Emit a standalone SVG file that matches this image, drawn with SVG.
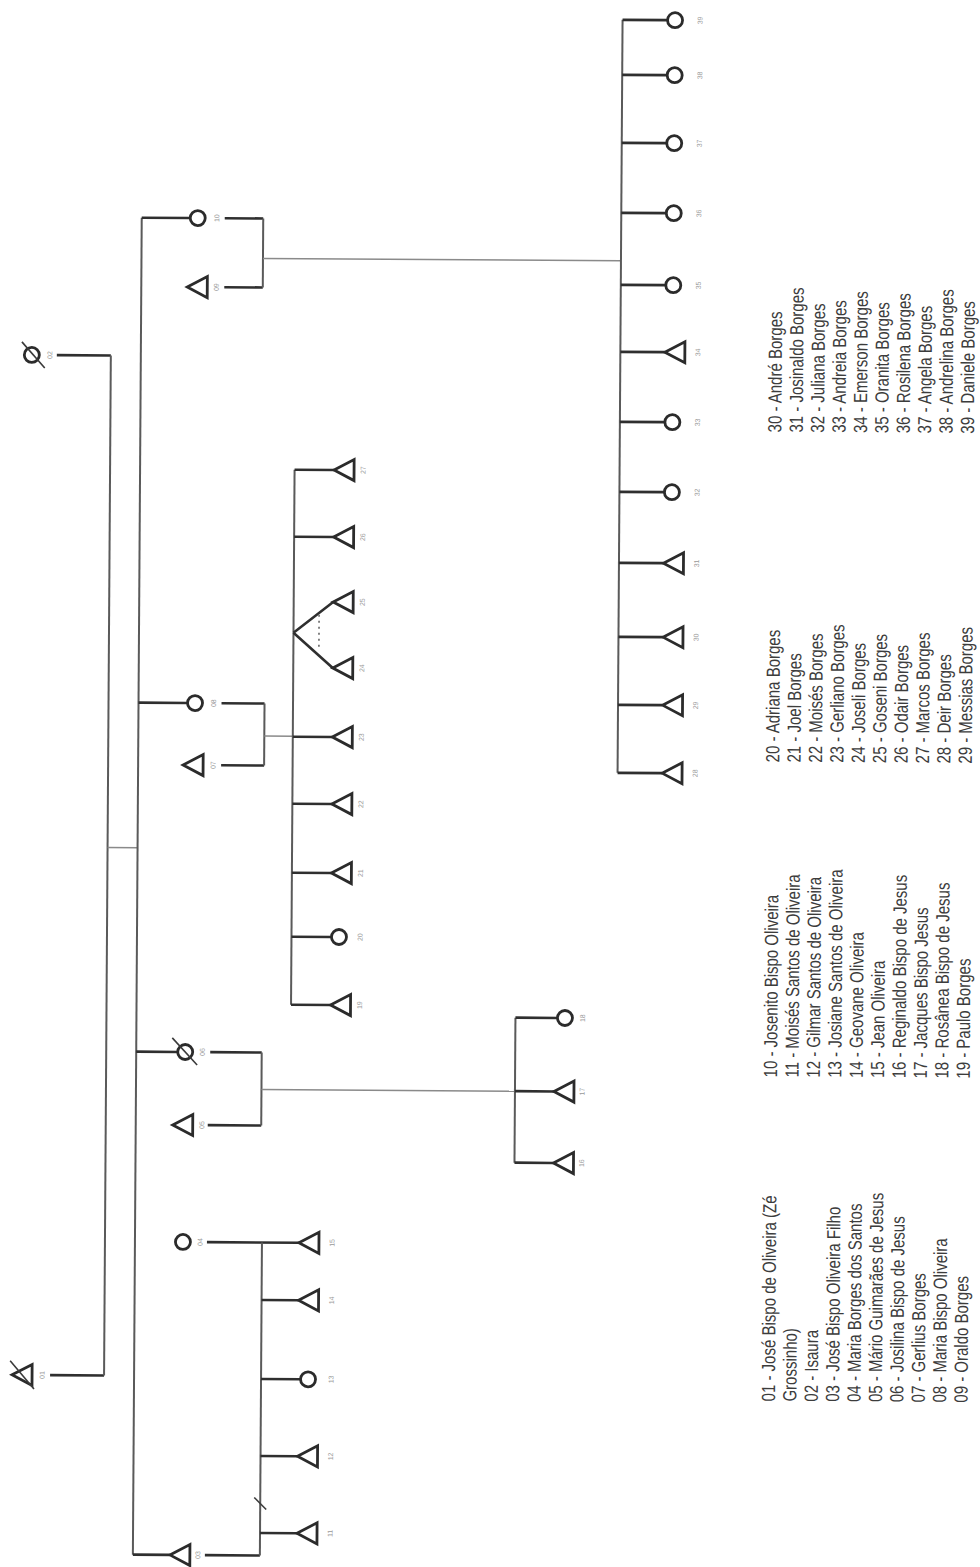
<svg xmlns="http://www.w3.org/2000/svg" xmlns:xlink="http://www.w3.org/1999/xlink" width="980" height="1567" viewBox="0 0 980 1567">
<style>
.sh{fill:#fff;stroke:#2b2b2b;stroke-width:2.8;stroke-linejoin:miter}
.sl{stroke:#3a3a3a;stroke-width:1.6;fill:none}
.c{stroke:#2f2f2f;stroke-width:2.6;fill:none}
.v{stroke:#5a5a5a;stroke-width:2;fill:none}
.t{stroke:#8a8a8a;stroke-width:1.5;fill:none}
.d{stroke:#777;stroke-width:1.8;stroke-dasharray:2 4;fill:none}
.lbl{font-family:"Liberation Sans",Arial,sans-serif;font-size:7px;fill:#999}
.leg{font-family:"Liberation Sans",Arial,sans-serif;font-size:19px;fill:#3c3c3c}
</style>
<defs>
<path id="tri" d="M0,0 L20,-10.5 L20,10.5 Z"/>
</defs>
<rect width="980" height="1567" fill="#fff"/>
<g transform="rotate(0.38 490 783)">
<g id="connectors">
<path class="c" d="M54,1378H108 M54,358H108"/>
<path class="v" d="M108,358V1378"/>
<path class="t" d="M108,850H138"/>
<path class="v" d="M138,220V1557"/>
<path class="c" d="M138,220H186.5 M221,220H259.5 M221,289H259.5"/>
<path class="v" d="M259.5,220V289"/>
<path class="t" d="M259.5,260H617.5"/>
<path class="v" d="M617.5,19V772"/>
<path class="c" d="M617.5,19H662.5 M617.5,74H662.5 M617.5,142H662.5 M617.5,212H662.5 M617.5,284H662.5 M617.5,351H662 M617.5,421H662.5 M617.5,491H662.5 M617.5,562H662 M617.5,636H662 M617.5,704H662 M617.5,772H662"/>
<path class="c" d="M138,705H187 M221,705H264 M221,767H264"/>
<path class="v" d="M264,705V767"/>
<path class="t" d="M264,737.5H292.5"/>
<path class="v" d="M292.5,471V1006"/>
<path class="c" d="M292.5,471H332 M292.5,538H332 M292.5,634L332,603 M292.5,634L332,669 M292.5,738H332 M292.5,805H332 M292.5,874H332 M292.5,938H332.5 M292.5,1006H332"/>
<path class="d" d="M318,616V652"/>
<path class="c" d="M138,1054H179.5 M212,1054H263.5 M210,1127H263.5"/>
<path class="v" d="M263.5,1054V1127"/>
<path class="t" d="M263.5,1091H517"/>
<path class="v" d="M517,1017.5V1162.5"/>
<path class="c" d="M517,1017.5H559 M517,1091H556 M517,1162.5H556"/>
<path class="c" d="M210,1244H302 M138,1557H175 M210,1557H265"/>
<path class="v" d="M265,1244V1557"/>
<path class="c" d="M265,1301.5H302 M265,1380.5H304.5 M265,1457.5H302 M265,1534.5H302"/>
<path class="sl" d="M259,1499L271,1511"/>
</g>
<g id="p01"><use xlink:href="#tri" href="#tri" x="16" y="1378" class="sh"/><path class="sl" d="M14,1364L38,1392"/><text class="lbl" text-anchor="middle" transform="translate(48.5,1378) rotate(-90)">01</text></g>
<g id="p02"><circle cx="29" cy="358" r="7.5" class="sh"/><path class="sl" d="M19,345L42,371"/><text class="lbl" text-anchor="middle" transform="translate(49.5,358) rotate(-90)">02</text></g>
<g id="p03"><use href="#tri" x="175" y="1557" class="sh"/><text class="lbl" text-anchor="middle" transform="translate(205.5,1557) rotate(-90)">03</text></g>
<g id="p04"><circle cx="186" cy="1244" r="7.5" class="sh"/><text class="lbl" text-anchor="middle" transform="translate(205.5,1244) rotate(-90)">04</text></g>
<g id="p05"><use href="#tri" x="175" y="1127" class="sh"/><text class="lbl" text-anchor="middle" transform="translate(206.5,1127) rotate(-90)">05</text></g>
<g id="p06"><circle cx="187" cy="1054" r="7.5" class="sh"/><path class="sl" d="M174,1040L199,1067"/><text class="lbl" text-anchor="middle" transform="translate(206.5,1054) rotate(-90)">06</text></g>
<g id="p07"><use href="#tri" x="183" y="767" class="sh"/><text class="lbl" text-anchor="middle" transform="translate(215.5,767) rotate(-90)">07</text></g>
<g id="p08"><circle cx="194.5" cy="705" r="7.5" class="sh"/><text class="lbl" text-anchor="middle" transform="translate(215.5,705) rotate(-90)">08</text></g>
<g id="p09"><use href="#tri" x="184" y="289" class="sh"/><text class="lbl" text-anchor="middle" transform="translate(215.5,289) rotate(-90)">09</text></g>
<g id="p10"><circle cx="194" cy="220" r="7.5" class="sh"/><text class="lbl" text-anchor="middle" transform="translate(215.5,220) rotate(-90)">10</text></g>
<g id="p11"><use href="#tri" x="302" y="1534.5" class="sh"/><text class="lbl" text-anchor="middle" transform="translate(337.5,1534.5) rotate(-90)">11</text></g>
<g id="p12"><use href="#tri" x="302" y="1457.5" class="sh"/><text class="lbl" text-anchor="middle" transform="translate(337.5,1457.5) rotate(-90)">12</text></g>
<g id="p13"><circle cx="312" cy="1380.5" r="7.5" class="sh"/><text class="lbl" text-anchor="middle" transform="translate(337.5,1380.5) rotate(-90)">13</text></g>
<g id="p14"><use href="#tri" x="302" y="1301.5" class="sh"/><text class="lbl" text-anchor="middle" transform="translate(337.5,1301.5) rotate(-90)">14</text></g>
<g id="p15"><use href="#tri" x="302" y="1244" class="sh"/><text class="lbl" text-anchor="middle" transform="translate(337.5,1244) rotate(-90)">15</text></g>
<g id="p16"><use href="#tri" x="556" y="1162.5" class="sh"/><text class="lbl" text-anchor="middle" transform="translate(586.5,1162.5) rotate(-90)">16</text></g>
<g id="p17"><use href="#tri" x="556" y="1091" class="sh"/><text class="lbl" text-anchor="middle" transform="translate(586.5,1091) rotate(-90)">17</text></g>
<g id="p18"><circle cx="566.5" cy="1017.5" r="7.5" class="sh"/><text class="lbl" text-anchor="middle" transform="translate(586.5,1017.5) rotate(-90)">18</text></g>
<g id="p19"><use href="#tri" x="332" y="1006" class="sh"/><text class="lbl" text-anchor="middle" transform="translate(363.5,1006) rotate(-90)">19</text></g>
<g id="p20"><circle cx="340" cy="938" r="7.5" class="sh"/><text class="lbl" text-anchor="middle" transform="translate(363.5,938) rotate(-90)">20</text></g>
<g id="p21"><use href="#tri" x="332" y="874" class="sh"/><text class="lbl" text-anchor="middle" transform="translate(363.5,874) rotate(-90)">21</text></g>
<g id="p22"><use href="#tri" x="332" y="805" class="sh"/><text class="lbl" text-anchor="middle" transform="translate(363.5,805) rotate(-90)">22</text></g>
<g id="p23"><use href="#tri" x="332" y="738" class="sh"/><text class="lbl" text-anchor="middle" transform="translate(363.5,738) rotate(-90)">23</text></g>
<g id="p24"><use href="#tri" x="332" y="669" class="sh"/><text class="lbl" text-anchor="middle" transform="translate(363.5,669) rotate(-90)">24</text></g>
<g id="p25"><use href="#tri" x="332" y="603" class="sh"/><text class="lbl" text-anchor="middle" transform="translate(363.5,603) rotate(-90)">25</text></g>
<g id="p26"><use href="#tri" x="332" y="538" class="sh"/><text class="lbl" text-anchor="middle" transform="translate(363.5,538) rotate(-90)">26</text></g>
<g id="p27"><use href="#tri" x="332" y="471" class="sh"/><text class="lbl" text-anchor="middle" transform="translate(363.5,471) rotate(-90)">27</text></g>
<g id="p28"><use href="#tri" x="662" y="772" class="sh"/><text class="lbl" text-anchor="middle" transform="translate(697.5,772) rotate(-90)">28</text></g>
<g id="p29"><use href="#tri" x="662" y="704" class="sh"/><text class="lbl" text-anchor="middle" transform="translate(697.5,704) rotate(-90)">29</text></g>
<g id="p30"><use href="#tri" x="662" y="636" class="sh"/><text class="lbl" text-anchor="middle" transform="translate(697.5,636) rotate(-90)">30</text></g>
<g id="p31"><use href="#tri" x="662" y="562" class="sh"/><text class="lbl" text-anchor="middle" transform="translate(697.5,562) rotate(-90)">31</text></g>
<g id="p32"><circle cx="670" cy="491" r="7.5" class="sh"/><text class="lbl" text-anchor="middle" transform="translate(697.5,491) rotate(-90)">32</text></g>
<g id="p33"><circle cx="670" cy="421" r="7.5" class="sh"/><text class="lbl" text-anchor="middle" transform="translate(697.5,421) rotate(-90)">33</text></g>
<g id="p34"><use href="#tri" x="662" y="351" class="sh"/><text class="lbl" text-anchor="middle" transform="translate(697.5,351) rotate(-90)">34</text></g>
<g id="p35"><circle cx="670" cy="284" r="7.5" class="sh"/><text class="lbl" text-anchor="middle" transform="translate(697.5,284) rotate(-90)">35</text></g>
<g id="p36"><circle cx="670" cy="212" r="7.5" class="sh"/><text class="lbl" text-anchor="middle" transform="translate(697.5,212) rotate(-90)">36</text></g>
<g id="p37"><circle cx="670" cy="142" r="7.5" class="sh"/><text class="lbl" text-anchor="middle" transform="translate(697.5,142) rotate(-90)">37</text></g>
<g id="p38"><circle cx="670" cy="74" r="7.5" class="sh"/><text class="lbl" text-anchor="middle" transform="translate(697.5,74) rotate(-90)">38</text></g>
<g id="p39"><circle cx="670" cy="19" r="7.5" class="sh"/><text class="lbl" text-anchor="middle" transform="translate(697.5,19) rotate(-90)">39</text></g>
<g id="legend1" class="leg" transform="translate(779,1399.5) rotate(-90) scale(0.79,1)">
<text x="0" y="0">01 - José Bispo de Oliveira (Zé</text>
<text x="0" y="21.4">Grossinho)</text>
<text x="0" y="42.8">02 - Isaura</text>
<text x="0" y="64.2">03 - José Bispo Oliveira Filho</text>
<text x="0" y="85.6">04 - Maria Borges dos Santos</text>
<text x="0" y="107">05 - Mário Guimarães de Jesus</text>
<text x="0" y="128.4">06 - Josilina Bispo de Jesus</text>
<text x="0" y="149.8">07 - Gerlius Borges</text>
<text x="0" y="171.2">08 - Maria Bispo Oliveira</text>
<text x="0" y="192.6">09 - Oraldo Borges</text>
</g>
<g id="legend2" class="leg" transform="translate(779,1075.5) rotate(-90) scale(0.79,1)">
<text x="0" y="0">10 - Josenito Bispo Oliveira</text>
<text x="0" y="21.4">11 - Moisés Santos de Oliveira</text>
<text x="0" y="42.8">12 - Gilmar Santos de Oliveira</text>
<text x="0" y="64.2">13 - Josiane Santos de Oliveira</text>
<text x="0" y="85.6">14 - Geovane Oliveira</text>
<text x="0" y="107">15 - Jean Oliveira</text>
<text x="0" y="128.4">16 - Reginaldo Bispo de Jesus</text>
<text x="0" y="149.8">17 - Jacques Bispo Jesus</text>
<text x="0" y="171.2">18 - Rosânea Bispo de Jesus</text>
<text x="0" y="192.6">19 - Paulo Borges</text>
</g>
<g id="legend3" class="leg" transform="translate(779,760.5) rotate(-90) scale(0.79,1)">
<text x="0" y="0">20 - Adriana Borges</text>
<text x="0" y="21.4">21 - Joel Borges</text>
<text x="0" y="42.8">22 - Moisés Borges</text>
<text x="0" y="64.2">23 - Gerliano Borges</text>
<text x="0" y="85.6">24 - Joseli Borges</text>
<text x="0" y="107">25 - Goseni Borges</text>
<text x="0" y="128.4">26 - Odair Borges</text>
<text x="0" y="149.8">27 - Marcos Borges</text>
<text x="0" y="171.2">28 - Deir Borges</text>
<text x="0" y="192.6">29 - Messias Borges</text>
</g>
<g id="legend4" class="leg" transform="translate(779,430.5) rotate(-90) scale(0.79,1)">
<text x="0" y="0">30 - André Borges</text>
<text x="0" y="21.4">31 - Josinaldo Borges</text>
<text x="0" y="42.8">32 - Juliana Borges</text>
<text x="0" y="64.2">33 - Andreia Borges</text>
<text x="0" y="85.6">34 - Emerson Borges</text>
<text x="0" y="107">35 - Oranita Borges</text>
<text x="0" y="128.4">36 - Rosilena Borges</text>
<text x="0" y="149.8">37 - Angela Borges</text>
<text x="0" y="171.2">38 - Andrelina Borges</text>
<text x="0" y="192.6">39 - Daniele Borges</text>
</g>
</g>
</svg>
